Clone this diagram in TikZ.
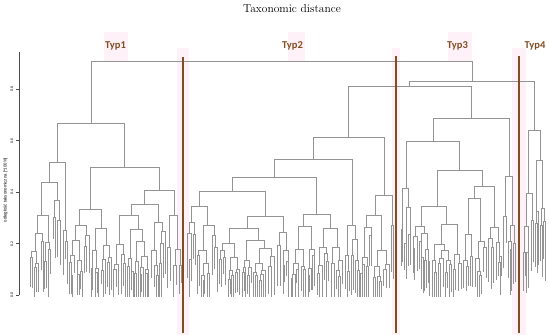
\documentclass[tikz,border=0pt]{standalone}
\usepackage{fontspec}
\newfontfamily\typfont{Carlito}
\newfontfamily\axfont{Liberation Sans}
\definecolor{typbrown}{RGB}{128,78,34}
\definecolor{bandpink}{RGB}{255,241,248}

\tikzset{
  dline/.style={draw=black!42, line width=.4pt},
  typline/.style={draw=typbrown, line width=1.7pt},
  typlab/.style={font=\typfont\bfseries\fontsize{10.5}{12}\selectfont, text=typbrown},
  axlab/.style={font=\axfont\fontsize{3.6}{4}\selectfont, rotate=90}
}

\newcommand\dendro[3]{%
  \begingroup
  \pgfmathsetmacro\dxl{#1}\pgfmathsetmacro\dxr{#2}\pgfmathsetmacro\dyt{#3}%
  \pgfmathtruncatemacro\dleaf{(\dxr-\dxl)<3.2}%
  \ifnum\dleaf=1
    \pgfmathsetmacro\dxc{(\dxl+\dxr)/2}%
    \pgfmathsetmacro\dyb{min(\dyt+10+22*rnd,297)}%
    \pgfmathsetmacro\dyb{max(\dyb,\dyt+4)}%
    \draw[dline] (\dxc,\dyt) -- (\dxc,\dyb);
  \else
    \pgfmathsetmacro\dxs{\dxl+(\dxr-\dxl)*(0.3+0.4*rnd)}%
    \pgfmathsetmacro\dcl{(\dxl+\dxs)/2}%
    \pgfmathsetmacro\dcr{(\dxs+\dxr)/2}%
    \pgfmathsetmacro\dhl{\dyt+(288-\dyt)*(0.12+0.38*rnd)}%
    \pgfmathsetmacro\dhr{\dyt+(288-\dyt)*(0.12+0.38*rnd)}%
    \draw[dline] (\dcl,\dhl) -- (\dcl,\dyt) -- (\dcr,\dyt) -- (\dcr,\dhr);
    \dendro{\dxl}{\dxs}{\dhl}%
    \dendro{\dxs}{\dxr}{\dhr}%
  \fi
  \endgroup}

\begin{document}
\begin{tikzpicture}[x=1pt,y=-1pt]
  \useasboundingbox (0,0) rectangle (550,335);
  \pgfmathsetseed{17}
  \fill[bandpink] (104,32) rectangle (128,62);
  \fill[bandpink] (288,32) rectangle (305,62);
  \fill[bandpink] (448,32) rectangle (472,62);
  \fill[bandpink] (177,48) rectangle (189,335);
  \fill[bandpink] (392,48) rectangle (400,335);
  \fill[bandpink] (512,48) rectangle (526,335);

  \node (title) at (292,9) {\fontsize{11.5}{13}\selectfont Taxonomic distance};

  \draw[black!70, line width=.4pt] (19,52) -- (19,295);
  \foreach \v/\yy in {0.0/295,0.2/243.5,0.4/192,0.6/140.5,0.8/89}
    {\draw[black!70, line width=.4pt] (19,\yy) -- (15.5,\yy);
     \node[axlab] (tick\v) at (12,\yy) {\v};}
  \node[axlab, font=\axfont\fontsize{4.3}{5}\selectfont] (ylab) at (5.5,190) {odległość taksonomiczna [*100\%]};

  \dendro{30}{52}{215}
  \dendro{52}{62}{200}
  \dendro{62}{68}{230}
  \dendro{68}{90}{225}
  \dendro{90}{112}{228}
  \dendro{112}{150}{215}
  \dendro{150}{166}{222}
  \dendro{166}{182}{215}
  \draw[dline] (41,215) -- (41,182) -- (57,182) -- (57,200);
  \draw[dline] (49,182) -- (49,162) -- (65,162) -- (65,230);
  \draw[dline] (79,225) -- (79,209) -- (101,209) -- (101,228);
  \draw[dline] (131,215) -- (131,204) -- (158,204) -- (158,222);
  \draw[dline] (144.5,204) -- (144.5,190) -- (174,190) -- (174,215);
  \draw[dline] (90,209) -- (90,167) -- (159.25,167) -- (159.25,190);
  \draw[dline] (57,162) -- (57,123) -- (124.6,123) -- (124.6,167);

  \dendro{186}{196}{222}
  \dendro{196}{218}{225}
  \dendro{218}{276}{228}
  \dendro{276}{290}{232}
  \dendro{290}{316}{226}
  \dendro{316}{344}{228}
  \dendro{344}{360}{225}
  \dendro{360}{390}{215}
  \dendro{390}{395}{225}
  \draw[dline] (191,222) -- (191,206) -- (207,206) -- (207,225);
  \draw[dline] (247,228) -- (247,216) -- (283,216) -- (283,232);
  \draw[dline] (199,206) -- (199,191) -- (265,191) -- (265,216);
  \draw[dline] (303,226) -- (303,214) -- (330,214) -- (330,228);
  \draw[dline] (232,191) -- (232,177) -- (316.5,177) -- (316.5,214);
  \draw[dline] (274.25,177) -- (274.25,159) -- (352,159) -- (352,225);
  \draw[dline] (375,215) -- (375,195) -- (392.5,195) -- (392.5,225);
  \draw[dline] (313.1,159) -- (313.1,137) -- (383.75,137) -- (383.75,195);

  \dendro{400}{412}{188}
  \dendro{412}{462}{206}
  \dendro{462}{502}{186}
  \dendro{502}{516}{176}
  \draw[dline] (437,206) -- (437,170) -- (482,170) -- (482,186);
  \draw[dline] (406,188) -- (406,141) -- (459.5,141) -- (459.5,170);
  \draw[dline] (432.75,141) -- (432.75,118) -- (509,118) -- (509,176);

  \dendro{522}{534}{193}
  \dendro{534}{546}{160}
  \draw[dline] (528,193) -- (528,130) -- (540,130) -- (540,160);

  \draw[dline] (348.4,137) -- (348.4,86) -- (470.9,86) -- (470.9,118);
  \draw[dline] (409.65,86) -- (409.65,81) -- (534,81) -- (534,130);
  \draw[dline] (90.8,123) -- (90.8,61) -- (471.8,61) -- (471.8,81);

  \draw[typline] (183,57) -- (183,333);
  \draw[typline] (396,56) -- (396,333);
  \draw[typline] (519,56) -- (519,333);
  \node[typlab] (typ1) at (115.5,46) {Typ1};
  \node[typlab] (typ2) at (292.5,46) {Typ2};
  \node[typlab] (typ3) at (457.5,46) {Typ3};
  \node[typlab] (typ4) at (535,46) {Typ4};
\end{tikzpicture}
\end{document}
